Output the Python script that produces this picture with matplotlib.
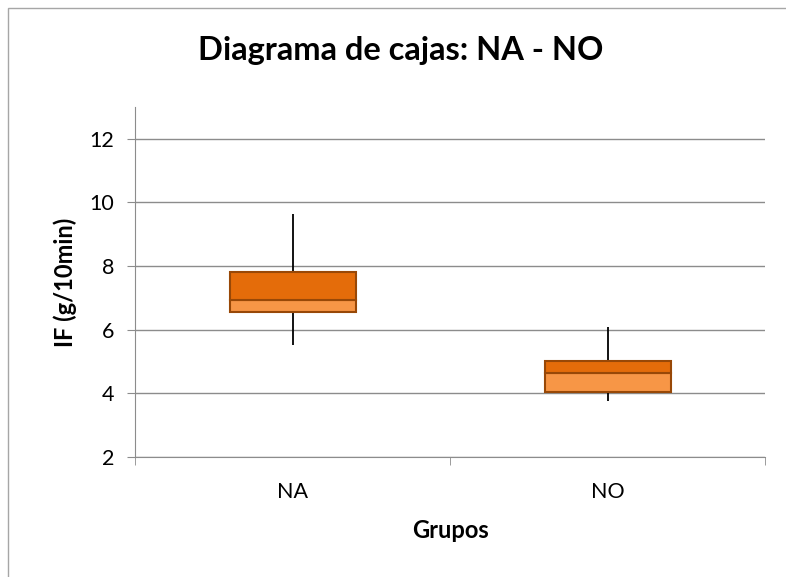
import matplotlib.pyplot as plt
from matplotlib.patches import Rectangle

groups = ['NA', 'NO']
minimum = [5.52, 3.76]
q1 = [6.56, 4.04]
median = [6.94, 4.64]
q3 = [7.80, 5.02]
maximum = [9.64, 6.09]

plt.rcParams['font.family'] = ['Lato', 'DejaVu Sans']

fig = plt.figure(figsize=(7.86, 5.77), dpi=100)
ax = fig.add_axes([0.1718, 0.208, 0.8015, 0.6066])

# outer chart-area border (cropped on right and bottom)
fig.patches.append(Rectangle((8 / 786, -0.1), 1.2, 1 - 8 / 577 + 0.1,
                             transform=fig.transFigure, fill=False,
                             edgecolor='#a6a6a6', linewidth=1.0))

x = [i + 0.5 for i in range(len(groups))]
low_h = [m - a for m, a in zip(median, q1)]
high_h = [b - m for b, m in zip(q3, median)]

ax.vlines(x, q3, maximum, color='black', linewidth=1.3, zorder=2)
ax.vlines(x, minimum, q1, color='black', linewidth=1.3, zorder=2)
ax.bar(x, low_h, bottom=q1, width=0.4, color='#F79646',
       edgecolor='#984807', linewidth=1.5, zorder=3)
ax.bar(x, high_h, bottom=median, width=0.4, color='#E46C0A',
       edgecolor='#984807', linewidth=1.5, zorder=3)

ax.set_xlim(0, 2)
ax.set_ylim(2, 13)
ax.set_yticks([2, 4, 6, 8, 10, 12])
ax.grid(axis='y', color='#8c8c8c', linewidth=1.0, zorder=0)
ax.set_axisbelow(True)

ax.set_xticks(x)
ax.set_xticklabels(groups)
ax.set_xticks([0, 1, 2], minor=True)
ax.tick_params(axis='x', which='major', length=0, pad=18, labelsize=15.5)
ax.tick_params(axis='x', which='minor', length=6, color='#8c8c8c', direction='out')
ax.tick_params(axis='y', length=6, color='#8c8c8c', labelsize=15.5, pad=9)

for s in ['top', 'right']:
    ax.spines[s].set_visible(False)
ax.spines['left'].set_color('#8c8c8c')
ax.spines['bottom'].set_color('#8c8c8c')

ax.set_xlabel('Grupos', fontsize=17, fontweight='bold', labelpad=12)
ax.set_ylabel('IF (g/10min)', fontsize=17, fontweight='bold', labelpad=9)
fig.text(0.510, 0.913, 'Diagrama de cajas: NA - NO', ha='center', va='center',
         fontsize=23.5, fontweight='bold')

fig.savefig('out.png', dpi=100)
